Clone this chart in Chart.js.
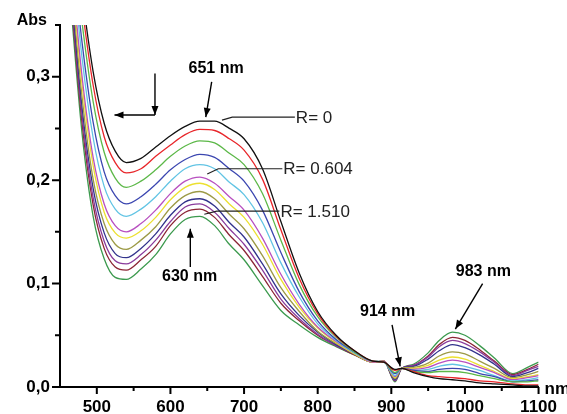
<!DOCTYPE html>
<html>
<head>
<meta charset="utf-8">
<script src="https://cdn.jsdelivr.net/npm/chart.js@4.4.0/dist/chart.umd.min.js"></script>
<style>
  html, body { margin: 0; padding: 0; background: #fff; }
  #wrap { width: 567px; height: 414px; }
</style>
</head>
<body>
<div id="wrap"><canvas id="spectra" width="567" height="414"></canvas></div>
<script>
// Wavelength grid (nm) shared by all the spectra
const wavelengths = [450, 465, 480, 495, 510, 525, 540, 560, 580, 600, 620, 640, 660, 680, 700, 725, 750, 775,
  800, 825, 850, 875, 890, 905, 914, 930, 950, 965, 983, 1000, 1020, 1040, 1065, 1085, 1100];

// Absorbance, one array per titration step (R = 0 ... R = max)
const curve01 = [0.560, 0.470, 0.380, 0.305, 0.255, 0.228, 0.217, 0.221, 0.232, 0.243, 0.252, 0.257, 0.257, 0.250, 0.240, 0.211, 0.160, 0.110,
  0.073, 0.050, 0.035, 0.025, 0.024, 0.017, 0.018, 0.014, 0.010, 0.008, 0.007, 0.006, 0.004, 0.003, 0.002, 0.001, 0.001];
const curve02 = [0.555, 0.460, 0.368, 0.292, 0.242, 0.217, 0.207, 0.211, 0.223, 0.234, 0.244, 0.249, 0.248, 0.240, 0.229, 0.201, 0.152, 0.105,
  0.071, 0.049, 0.035, 0.025, 0.024, 0.016, 0.018, 0.015, 0.011, 0.010, 0.009, 0.008, 0.006, 0.005, 0.003, 0.002, 0.002];
const curve03 = [0.550, 0.448, 0.352, 0.276, 0.227, 0.202, 0.193, 0.199, 0.210, 0.223, 0.233, 0.238, 0.236, 0.226, 0.215, 0.187, 0.142, 0.099,
  0.068, 0.048, 0.034, 0.025, 0.024, 0.014, 0.018, 0.015, 0.014, 0.015, 0.015, 0.014, 0.011, 0.008, 0.005, 0.005, 0.006];
const curve04 = [0.545, 0.435, 0.333, 0.256, 0.208, 0.185, 0.177, 0.184, 0.196, 0.210, 0.220, 0.225, 0.222, 0.211, 0.199, 0.171, 0.130, 0.092,
  0.064, 0.046, 0.034, 0.025, 0.024, 0.013, 0.018, 0.016, 0.015, 0.017, 0.018, 0.017, 0.013, 0.010, 0.005, 0.006, 0.007];
const curve05 = [0.540, 0.425, 0.318, 0.241, 0.194, 0.172, 0.165, 0.172, 0.184, 0.199, 0.211, 0.215, 0.211, 0.198, 0.186, 0.159, 0.120, 0.087,
  0.061, 0.045, 0.033, 0.025, 0.024, 0.011, 0.018, 0.016, 0.017, 0.020, 0.022, 0.020, 0.016, 0.011, 0.006, 0.007, 0.009];
const curve06 = [0.535, 0.412, 0.300, 0.222, 0.177, 0.156, 0.150, 0.158, 0.171, 0.187, 0.199, 0.203, 0.197, 0.184, 0.171, 0.144, 0.109, 0.080,
  0.058, 0.044, 0.033, 0.024, 0.025, 0.010, 0.018, 0.017, 0.019, 0.023, 0.026, 0.024, 0.019, 0.014, 0.007, 0.009, 0.011];
const curve07 = [0.532, 0.405, 0.292, 0.214, 0.169, 0.149, 0.144, 0.151, 0.164, 0.181, 0.193, 0.197, 0.191, 0.177, 0.164, 0.138, 0.104, 0.077,
  0.057, 0.043, 0.032, 0.024, 0.025, 0.009, 0.018, 0.018, 0.021, 0.026, 0.029, 0.027, 0.021, 0.015, 0.008, 0.010, 0.012];
const curve08 = [0.528, 0.396, 0.280, 0.201, 0.158, 0.138, 0.133, 0.142, 0.155, 0.173, 0.185, 0.189, 0.182, 0.167, 0.153, 0.127, 0.096, 0.073,
  0.054, 0.042, 0.032, 0.024, 0.025, 0.008, 0.018, 0.019, 0.023, 0.030, 0.034, 0.032, 0.025, 0.018, 0.009, 0.012, 0.015];
const curve09 = [0.524, 0.388, 0.270, 0.192, 0.149, 0.129, 0.125, 0.134, 0.148, 0.166, 0.179, 0.182, 0.175, 0.159, 0.145, 0.119, 0.090, 0.069,
  0.053, 0.041, 0.032, 0.024, 0.025, 0.007, 0.018, 0.020, 0.027, 0.035, 0.041, 0.038, 0.031, 0.022, 0.010, 0.014, 0.018];
const curve10 = [0.520, 0.382, 0.262, 0.183, 0.141, 0.122, 0.119, 0.128, 0.142, 0.160, 0.174, 0.177, 0.169, 0.153, 0.138, 0.113, 0.085, 0.066,
  0.051, 0.040, 0.032, 0.024, 0.025, 0.006, 0.018, 0.021, 0.029, 0.039, 0.045, 0.042, 0.034, 0.024, 0.011, 0.016, 0.020];
const curve11 = [0.517, 0.377, 0.255, 0.176, 0.134, 0.116, 0.113, 0.123, 0.136, 0.156, 0.169, 0.172, 0.164, 0.147, 0.132, 0.107, 0.081, 0.064,
  0.050, 0.040, 0.031, 0.024, 0.025, 0.006, 0.018, 0.021, 0.030, 0.041, 0.048, 0.045, 0.036, 0.025, 0.012, 0.017, 0.022];
const curve12 = [0.512, 0.368, 0.245, 0.165, 0.124, 0.106, 0.104, 0.114, 0.128, 0.148, 0.162, 0.165, 0.156, 0.138, 0.123, 0.098, 0.074, 0.060,
  0.048, 0.039, 0.031, 0.024, 0.025, 0.005, 0.018, 0.022, 0.033, 0.045, 0.053, 0.050, 0.040, 0.028, 0.013, 0.019, 0.024];

const curves = [curve01, curve02, curve03, curve04, curve05, curve06, curve07, curve08, curve09, curve10, curve11, curve12];
const curveColors = ['#111111', '#e8262a', '#5cb848', '#3b46b0', '#62c4e4', '#b850c0',
  '#ece030', '#9c9a46', '#32338c', '#8a3c9c', '#8c2636', '#3c9a4e'];

// Axis ticks
const xMajorTicks = [500, 600, 700, 800, 900, 1000, 1100];
const xMinorTicks = [550, 650, 750, 850, 950, 1050];
const yMajorTicks = [0, 0.1, 0.2, 0.3];
const yMinorTicks = [0.05, 0.15, 0.25, 0.35];

// Annotations in data coordinates
const peakLabels = [
  { text: '651 nm', x: 662, y: 0.308 },
  { text: '630 nm', x: 626, y: 0.107 },
  { text: '914 nm', x: 895, y: 0.073 },
  { text: '983 nm', x: 1025, y: 0.112 }
];
const arrows = [
  [656, 0.295, 648, 0.261],
  [627, 0.116, 627, 0.153],
  [901, 0.060, 912, 0.020],
  [1024, 0.100, 987, 0.056],
  [579, 0.303, 579, 0.263],
  [579, 0.263, 524, 0.263]
];
const ratioLabels = [
  { text: 'R= 0', pts: [[670, 0.258], [684, 0.261], [769, 0.261]] },
  { text: 'R= 0.604', pts: [[650, 0.206], [665, 0.211], [752, 0.211]] },
  { text: 'R= 1.510', pts: [[646, 0.167], [663, 0.170], [748, 0.170]] }
];

const FONT = '"Liberation Sans", Arial, sans-serif';

function drawArrow(ctx, x1, y1, x2, y2) {
  ctx.beginPath();
  ctx.moveTo(x1, y1);
  ctx.lineTo(x2, y2);
  ctx.stroke();
  const a = Math.atan2(y2 - y1, x2 - x1), L = 9, W = 3.5;
  ctx.beginPath();
  ctx.moveTo(x2, y2);
  ctx.lineTo(x2 - L * Math.cos(a) + W * Math.sin(a), y2 - L * Math.sin(a) - W * Math.cos(a));
  ctx.lineTo(x2 - L * Math.cos(a) - W * Math.sin(a), y2 - L * Math.sin(a) + W * Math.cos(a));
  ctx.closePath();
  ctx.fill();
}

// Tick marks, axis titles and the peak annotations
const decorations = {
  id: 'decorations',
  afterDraw(chart) {
    const ctx = chart.ctx;
    const xs = chart.scales.x, ys = chart.scales.y;
    const area = chart.chartArea;
    ctx.save();
    ctx.strokeStyle = '#000';
    ctx.fillStyle = '#000';

    // ticks
    ctx.lineWidth = 2;
    ctx.beginPath();
    yMajorTicks.forEach(v => { const p = ys.getPixelForValue(v); ctx.moveTo(area.left - 8, p); ctx.lineTo(area.left, p); });
    yMinorTicks.forEach(v => { const p = ys.getPixelForValue(v); ctx.moveTo(area.left - 5, p); ctx.lineTo(area.left, p); });
    xMajorTicks.forEach(v => { const p = xs.getPixelForValue(v); ctx.moveTo(p, area.bottom); ctx.lineTo(p, area.bottom + 7); });
    xMinorTicks.forEach(v => { const p = xs.getPixelForValue(v); ctx.moveTo(p, area.bottom); ctx.lineTo(p, area.bottom + 4); });
    ctx.stroke();

    // axis titles
    ctx.font = 'bold 16px ' + FONT;
    ctx.textAlign = 'right';
    ctx.textBaseline = 'middle';
    ctx.fillText('Abs', area.left - 13, area.top - 4);
    ctx.font = 'bold 17px ' + FONT;
    ctx.textAlign = 'left';
    ctx.fillText('nm', area.right + 6, area.bottom + 2);

    // peak labels + arrows
    ctx.font = 'bold 16px ' + FONT;
    ctx.textAlign = 'center';
    peakLabels.forEach(l => ctx.fillText(l.text, xs.getPixelForValue(l.x), ys.getPixelForValue(l.y)));
    ctx.lineWidth = 1.4;
    arrows.forEach(a => drawArrow(ctx, xs.getPixelForValue(a[0]), ys.getPixelForValue(a[1]),
      xs.getPixelForValue(a[2]), ys.getPixelForValue(a[3])));

    // R labels with leader lines
    ctx.lineWidth = 1.2;
    ctx.strokeStyle = '#222';
    ctx.fillStyle = '#222';
    ctx.font = '17px ' + FONT;
    ctx.textAlign = 'left';
    ratioLabels.forEach(l => {
      ctx.beginPath();
      l.pts.forEach((p, i) => {
        const px = xs.getPixelForValue(p[0]), py = ys.getPixelForValue(p[1]);
        if (i === 0) ctx.moveTo(px, py); else ctx.lineTo(px, py);
      });
      ctx.stroke();
      const last = l.pts[l.pts.length - 1];
      ctx.fillText(l.text, xs.getPixelForValue(last[0]) + 1, ys.getPixelForValue(last[1]) + 1);
    });
    ctx.restore();
  }
};

const datasets = curves.map((c, i) => ({
  data: wavelengths.map((w, j) => ({ x: w, y: c[j] })),
  borderColor: curveColors[i],
  borderWidth: 1.3,
  pointRadius: 0,
  cubicInterpolationMode: 'monotone',
  fill: false
}));

new Chart(document.getElementById('spectra'), {
  type: 'line',
  data: { datasets: datasets },
  options: {
    responsive: false,
    animation: false,
    layout: { padding: { top: 25, right: 28, left: 0, bottom: 0 } },
    plugins: { legend: { display: false }, tooltip: { enabled: false } },
    scales: {
      x: {
        type: 'linear',
        min: 450,
        max: 1100,
        afterFit: s => { s.height = 27; },
        afterBuildTicks: s => { s.ticks = xMajorTicks.map(v => ({ value: v })); },
        grid: { display: false, drawTicks: false },
        border: { display: true, color: '#000', width: 2 },
        ticks: {
          padding: 10,
          maxRotation: 0,
          autoSkip: false,
          color: '#000',
          font: { family: FONT, size: 17, weight: 'bold' },
          callback: v => String(v)
        }
      },
      y: {
        min: 0,
        max: 0.35,
        afterFit: s => { s.width = 60; },
        afterBuildTicks: s => { s.ticks = yMajorTicks.map(v => ({ value: v })); },
        grid: { display: false, drawTicks: false },
        border: { display: true, color: '#000', width: 2 },
        ticks: {
          padding: 10,
          autoSkip: false,
          color: '#000',
          font: { family: FONT, size: 17, weight: 'bold' },
          callback: v => v.toFixed(1).replace('.', ',')
        }
      }
    }
  },
  plugins: [decorations]
});
</script>
</body>
</html>
